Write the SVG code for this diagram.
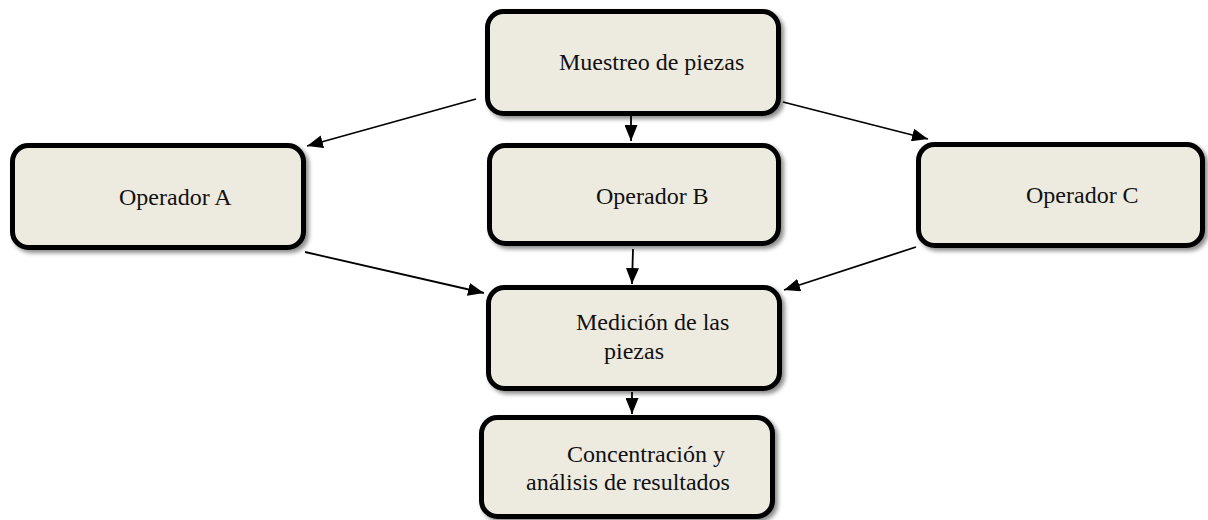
<svg xmlns="http://www.w3.org/2000/svg" width="1208" height="520" viewBox="0 0 1208 520">
<defs>
<filter id="sh" x="-10%" y="-10%" width="125%" height="130%">
<feDropShadow dx="3" dy="3" stdDeviation="2" flood-color="#000" flood-opacity="0.45"/>
</filter>
<marker id="ah" viewBox="0 0 16 13" refX="16" refY="6.5" markerWidth="16" markerHeight="13" markerUnits="userSpaceOnUse" orient="auto">
<path d="M0,0 L16,6.5 L0,13 z" fill="#000"/>
</marker>
</defs>
<style>
.box{fill:#EDEAE0;stroke:#000;stroke-width:5;filter:url(#sh)}
.c{stroke:#000;stroke-width:1.8;fill:none}
.t{font-family:'Liberation Serif','Times New Roman',serif;font-size:24px;fill:#111}
</style>
<rect width="1208" height="520" fill="#fff"/>
<g id="connectors">
<line class="c" x1="476" y1="99" x2="307" y2="146" marker-end="url(#ah)"/>
<line class="c" x1="631" y1="116" x2="631" y2="141" marker-end="url(#ah)"/>
<line class="c" x1="783" y1="102" x2="928" y2="139" marker-end="url(#ah)"/>
<line class="c" x1="305" y1="252" x2="484" y2="293" marker-end="url(#ah)"/>
<line class="c" x1="633" y1="249" x2="632" y2="284" marker-end="url(#ah)"/>
<line class="c" x1="916" y1="247" x2="784" y2="290" marker-end="url(#ah)"/>
<line class="c" x1="632" y1="392" x2="632" y2="414" marker-end="url(#ah)"/>
</g>
<g id="muestreo">
<rect class="box" x="487.5" y="11.5" width="291" height="102" rx="16"/>
<text class="t" x="559" y="70">Muestreo de piezas</text>
</g>
<g id="operadorA">
<rect class="box" x="12.5" y="145.5" width="291" height="102" rx="16"/>
<text class="t" x="119" y="205">Operador A</text>
</g>
<g id="operadorB">
<rect class="box" x="489.5" y="145.5" width="289" height="98" rx="16"/>
<text class="t" x="596" y="204">Operador B</text>
</g>
<g id="operadorC">
<rect class="box" x="918.5" y="144.5" width="284" height="101" rx="16"/>
<text class="t" x="1026" y="203">Operador C</text>
</g>
<g id="medicion">
<rect class="box" x="488.5" y="287.5" width="291" height="101" rx="16"/>
<text class="t" x="576" y="330">Medición de las</text>
<text class="t" x="604" y="359">piezas</text>
</g>
<g id="concentracion">
<rect class="box" x="481.5" y="417.5" width="291" height="99" rx="16"/>
<text class="t" x="567" y="462">Concentración y</text>
<text class="t" x="526" y="490">análisis de resultados</text>
</g>
</svg>
